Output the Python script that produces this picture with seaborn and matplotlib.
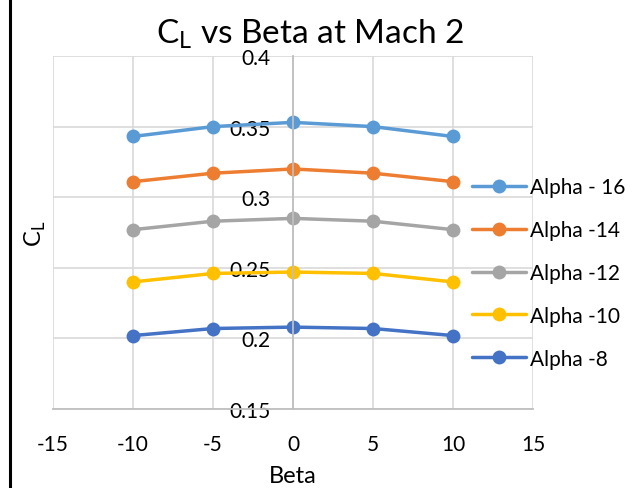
import matplotlib
matplotlib.use("Agg")
import matplotlib.pyplot as plt
from matplotlib.lines import Line2D
import seaborn as sns
import pandas as pd

beta = [-10, -5, 0, 5, 10]
series_names = ["Alpha - 16", "Alpha -14", "Alpha -12", "Alpha -10", "Alpha -8"]
cl_alpha16 = [0.343, 0.350, 0.353, 0.350, 0.343]
cl_alpha14 = [0.311, 0.317, 0.320, 0.317, 0.311]
cl_alpha12 = [0.277, 0.283, 0.285, 0.283, 0.277]
cl_alpha10 = [0.240, 0.246, 0.247, 0.246, 0.240]
cl_alpha8 = [0.202, 0.207, 0.208, 0.207, 0.202]
colors = ["#5B9BD5", "#ED7D31", "#A5A5A5", "#FFC000", "#4472C4"]
x_ticks = [-15, -10, -5, 0, 5, 10, 15]
y_ticks = [0.15, 0.2, 0.25, 0.3, 0.35, 0.4]
y_tick_labels = ["0.15", "0.2", "0.25", "0.3", "0.35", "0.4"]

rows = []
for name, vals in zip(series_names, [cl_alpha16, cl_alpha14, cl_alpha12, cl_alpha10, cl_alpha8]):
    for b, v in zip(beta, vals):
        rows.append({"Beta": b, "CL": v, "Series": name})
df = pd.DataFrame(rows)

sns.set_theme(style="white")
plt.rcParams["font.family"] = ["Lato", "DejaVu Sans"]
plt.rcParams["text.color"] = "black"

fig = plt.figure(figsize=(6.34, 4.89), dpi=100)
ax = fig.add_axes([53/634, 79/489, 480/634, 353/489])

sns.lineplot(data=df, x="Beta", y="CL", hue="Series", hue_order=series_names,
             palette=colors, marker="o", markersize=10, markeredgewidth=0,
             linewidth=2.5, ax=ax)

ax.set_xlim(-15, 15)
ax.set_ylim(0.15, 0.4)
ax.set_xticks(x_ticks)
ax.set_xticklabels([str(t) for t in x_ticks])
ax.set_yticks(y_ticks)
ax.set_yticklabels(y_tick_labels)
ax.grid(True, color="#D9D9D9", linewidth=1.2)
ax.set_axisbelow(True)

for s in ["top", "right"]:
    ax.spines[s].set_visible(False)
ax.spines["left"].set_position(("data", 0))
ax.spines["left"].set_color("#BFBFBF")
ax.spines["left"].set_linewidth(1.3)
ax.spines["bottom"].set_color("#BFBFBF")
ax.spines["bottom"].set_linewidth(1.3)
ax.tick_params(axis="both", length=0, labelsize=15, colors="black")
ax.tick_params(axis="y", pad=16)
ax.tick_params(axis="x", pad=18)

ax.set_xlabel("Beta", fontsize=17, labelpad=8, color="black")
ax.set_ylabel("")
fig.text(35/634, 1 - 234/489, r"C$_\mathregular{L}$", rotation=90, fontsize=17,
         ha="center", va="center")
fig.text(310/634, 1 - 43/489, r"C$_\mathregular{L}$ vs Beta at Mach 2", fontsize=24,
         ha="center", va="baseline")

handles, labels = ax.get_legend_handles_labels()
leg = ax.legend(handles, labels, loc="upper left",
                bbox_to_anchor=(472/634, 1 - 178/489), bbox_transform=fig.transFigure,
                frameon=False, fontsize=15, handlelength=2.6, handletextpad=0.2,
                labelspacing=1.1, borderpad=0, borderaxespad=0)

fig.add_artist(Line2D([10/634, 10/634], [0, 1], color="black", linewidth=2.2,
                      transform=fig.transFigure))

fig.savefig("out.png", dpi=100)
